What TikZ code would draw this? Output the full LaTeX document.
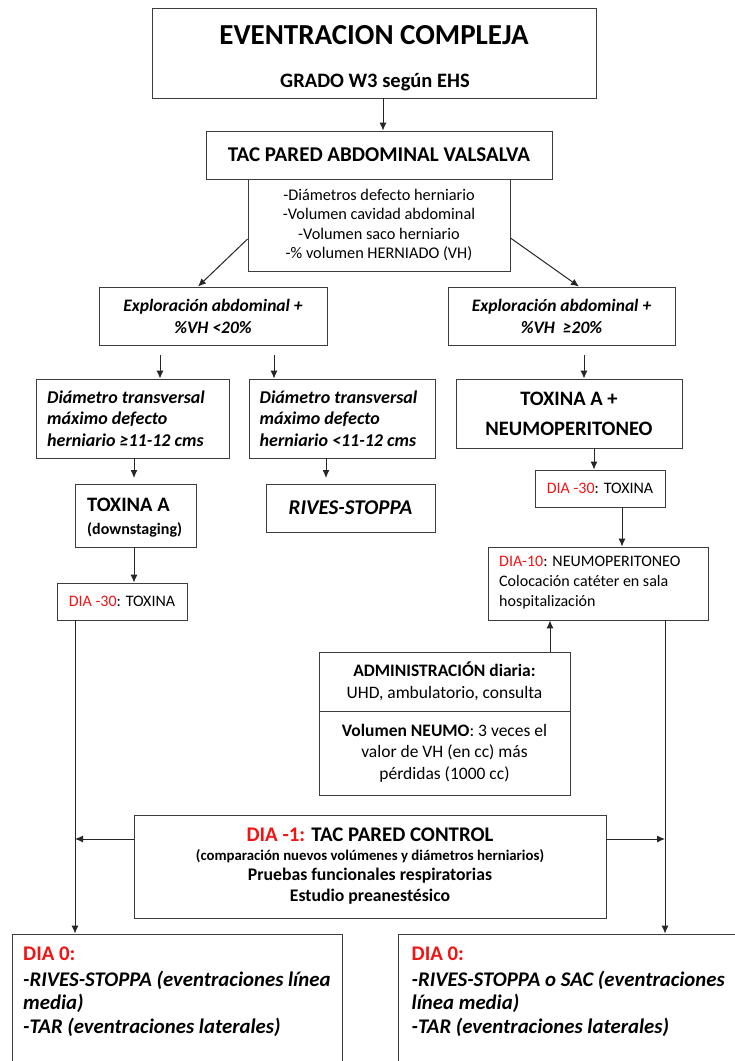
\documentclass[tikz,border=0pt]{standalone}
\usepackage{fontspec}
\setmainfont{Carlito}
\usetikzlibrary{arrows.meta}
\definecolor{dred}{RGB}{240,20,20}
\definecolor{bord}{RGB}{60,60,60}
\newcommand\setfs[2]{\fontsize{#1}{#2}\selectfont}
\begin{document}
\begin{tikzpicture}[x=1pt,y=-1pt,
  box/.style={draw=bord, line width=0.9pt, inner sep=0pt, align=center},
  txt/.style={inner sep=0pt, align=center},
  ltxt/.style={inner sep=0pt, align=left, anchor=west},
  arr/.style={-{Latex[length=8pt,width=7pt]}, line width=1pt, draw=black!85}]
\useasboundingbox (0,0) rectangle (735,1061);
\clip (0,0) rectangle (735,1061);
\fill[white] (0,0) rectangle (735,1061);

% top
\node[box, minimum width=444, minimum height=90] (top) at (374,53) {};
\node[txt, font={\setfs{29}{34}\bfseries}] (topa) at (374,35) {EVENTRACION COMPLEJA};
\node[txt, font={\setfs{20.5}{24}\bfseries}] (topb) at (375,82) {GRADO W3 según EHS};

\node[box, minimum width=346, minimum height=48, font={\setfs{21}{25}\bfseries}] (tac) at (379,155) {TAC PARED ABDOMINAL VALSALVA};
\node[box, minimum width=262, minimum height=92, font={\setfs{16.3}{19.5}}] (list) at (379,225) {-Diámetros defecto herniario\\-Volumen cavidad abdominal\\-Volumen saco herniario\\-\% volumen HERNIADO (VH)};

\node[box, minimum width=228, minimum height=58, font={\setfs{17.5}{22}\bfseries\itshape}] (expL) at (213,316) {Exploración abdominal +\\\%VH <20\%};
\node[box, minimum width=227, minimum height=58, font={\setfs{17.5}{22}\bfseries\itshape}] (expR) at (561.5,316) {Exploración abdominal +\\\%VH\ \ ≥20\%};

\node[box, minimum width=193, minimum height=79] (diaG) at (132.5,418.5) {};
\node[ltxt, font={\setfs{18}{21.5}\bfseries\itshape}] (diaGt) at (47,418.5) {Diámetro transversal\\máximo defecto\\herniario ≥11-12 cms};
\node[box, minimum width=186, minimum height=79] (diaL) at (342,418.5) {};
\node[ltxt, font={\setfs{18}{21.5}\bfseries\itshape}] (diaLt) at (259.5,418.5) {Diámetro transversal\\máximo defecto\\herniario <11-12 cms};

\node[box, minimum width=226, minimum height=69, font={\setfs{20.5}{30}\bfseries}] (toxn) at (569,413.5) {TOXINA A +\\NEUMOPERITONEO};

\node[box, minimum width=121, minimum height=63] (toxA) at (135.5,515.5) {};
\node[ltxt, font={\setfs{20.5}{24}\bfseries}] (toxAa) at (87,505) {TOXINA A};
\node[ltxt, font={\setfs{16}{19}\bfseries}] (toxAb) at (87,530) {(downstaging)};

\node[box, minimum width=169, minimum height=48, font={\setfs{21}{25}\bfseries\itshape}] (rives) at (350.5,508) {RIVES-STOPPA};

\node[box, minimum width=130, minimum height=37, font={\setfs{16}{19}}] (d30R) at (600,488.5) {\textcolor{dred}{DIA -30}: TOXINA};
\node[box, minimum width=220, minimum height=73] (d10) at (598,583.5) {};
\node[ltxt, font={\setfs{16}{20}}] (d10t) at (499,583) {\textcolor{dred}{DIA-10}: NEUMOPERITONEO\\Colocación catéter en sala\\hospitalización};

\node[box, minimum width=130, minimum height=37, font={\setfs{16}{19}}] (d30L) at (122,601.5) {\textcolor{dred}{DIA -30}: TOXINA};

\node[box, minimum width=251, minimum height=59, font={\setfs{17.5}{22}}] (admA) at (444.5,681.5) {\textbf{ADMINISTRACIÓN diaria:}\\UHD, ambulatorio, consulta};
\node[box, minimum width=251, minimum height=84, font={\setfs{17.5}{21.5}}] (admB) at (444.5,753) {\textbf{Volumen NEUMO}: 3 veces el\\valor de VH (en cc) más\\pérdidas (1000 cc)};

\node[box, minimum width=472, minimum height=103] (dm1) at (370,866.5) {};
\node[txt, font={\setfs{20.8}{24}\bfseries}] (dm1a) at (370,835) {\textcolor{dred}{DIA -1:} TAC PARED CONTROL};
\node[txt, font={\setfs{14.8}{17}\bfseries}] (dm1b) at (370,856) {(comparación nuevos volúmenes y diámetros herniarios)};
\node[txt, font={\setfs{17.7}{21}\bfseries}] (dm1c) at (370,876) {Pruebas funcionales respiratorias};
\node[txt, font={\setfs{17.7}{21}\bfseries}] (dm1d) at (370,897) {Estudio preanestésico};

\node[box, minimum width=330, minimum height=150] (d0L) at (177,1009) {};
\node[ltxt, font={\setfs{20.8}{24}\bfseries\color{dred}}] (d0La) at (23,954) {DIA 0:};
\node[ltxt, font={\setfs{20.8}{23.5}\bfseries\itshape}] (d0Lb) at (23,1003.5) {-RIVES-STOPPA (eventraciones línea\\media)\\-TAR (eventraciones laterales)};
\node[box, minimum width=360, minimum height=150] (d0R) at (578,1009) {};
\node[ltxt, font={\setfs{20.8}{24}\bfseries\color{dred}}] (d0Ra) at (411.5,954) {DIA 0:};
\node[ltxt, font={\setfs{20.8}{23.5}\bfseries\itshape}] (d0Rb) at (411.5,1003.5) {-RIVES-STOPPA o SAC (eventraciones\\línea media)\\-TAR (eventraciones laterales)};

% connectors
\draw[arr] ([xshift=9pt]top.south) -- ([xshift=9pt]top.south |- tac.north);
\draw[arr] ([yshift=-14pt]list.west) -- ([xshift=-15pt]expL.north);
\draw[arr] ([yshift=-13pt]list.east) -- ([xshift=17.5pt]expR.north);
\coordinate (g1) at (160,355);
\coordinate (g2) at (274,355);
\coordinate (g3) at (584,355);
\draw[arr] (g1) -- (g1 |- diaG.north);
\draw[arr] (g2) -- (g2 |- diaL.north);
\draw[arr] (g3) -- (g3 |- toxn.north);
\coordinate (g4) at (134,478);
\coordinate (g5) at (326,478);
\draw[arr] (g4 |- diaG.south) -- (g4);
\draw[arr] (g5 |- diaL.south) -- (g5);
\draw[arr] (toxn.south -| 594,0) -- (d30R.north -| 594,0);
\draw[arr] (d30R.south -| 622,0) -- (d10.north -| 622,0);
\draw[arr] (toxA.south -| 134,0) -- (d30L.north -| 134,0);
\draw[arr] (admA.north -| 550,0) -- (d10.south -| 550,0);
\draw[arr] (d30L.south -| 75,0) -- (d0L.north -| 75,0);
\draw[arr] (d10.south -| 665,0) -- (d0R.north -| 665,0);
\draw[arr] ([yshift=27.5pt]dm1.west) -- ([yshift=27.5pt]dm1.west -| 75,0);
\draw[arr] ([yshift=27.5pt]dm1.east) -- ([yshift=27.5pt]dm1.east -| 665,0);
\end{tikzpicture}
\end{document}
